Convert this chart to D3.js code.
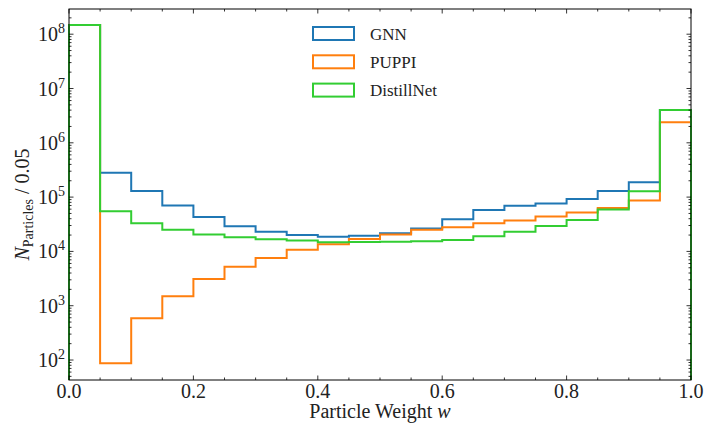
<!DOCTYPE html>
<html><head><meta charset="utf-8">
<script src="https://cdn.jsdelivr.net/npm/d3@7"></script>
<style>body{margin:0;background:#fff}svg{display:block}</style>
</head><body><svg id="c" width="706" height="427"></svg>
<script>
const binEdges = [0,0.05,0.1,0.15,0.2,0.25,0.3,0.35,0.4,0.45,0.5,0.55,0.6,0.65,0.7,0.75,0.8,0.85,0.9,0.95,1.0];
const gnn = [1.48e8,2.8e5,1.3e5,7.0e4,4.3e4,2.9e4,2.3e4,2.0e4,1.86e4,1.94e4,2.15e4,2.65e4,3.9e4,5.8e4,6.9e4,7.6e4,9.2e4,1.3e5,1.88e5,4.0e6];
const puppi = [1.48e8,87,590,1500,3100,5200,7600,1.07e4,1.35e4,1.7e4,2.05e4,2.5e4,2.8e4,3.3e4,3.7e4,4.4e4,5.2e4,6.3e4,8.7e4,2.4e6];
const distill = [1.48e8,5.5e4,3.3e4,2.5e4,2.05e4,1.82e4,1.67e4,1.58e4,1.47e4,1.49e4,1.5e4,1.54e4,1.62e4,1.9e4,2.3e4,2.95e4,3.8e4,5.9e4,1.28e5,4.0e6];
const seriesNames = ["GNN","PUPPI","DistillNet"];
const seriesColors = ["#1f77b4","#ff7f0e","#32cd32"];
const xTicks = [0,0.2,0.4,0.6,0.8,1.0];
const yExps = [2,3,4,5,6,7,8];

const FONT = "'Liberation Serif', 'Times New Roman', 'DejaVu Serif', serif";
const svg = d3.select("#c");
const L=69,R=691,T=9,B=380;
const x = d3.scaleLinear().domain([0,1]).range([L,R]);
const y = d3.scaleLog().domain([Math.pow(10,1.632),Math.pow(10,8.464)]).range([B,T]);

svg.append("defs").append("clipPath").attr("id","clip").append("rect").attr("x",L-1).attr("y",T).attr("width",R-L+2).attr("height",B-T);

const data=[gnn,puppi,distill];
data.forEach((vals,i)=>{
  let p = `M${x(binEdges[0])},${B}`;
  vals.forEach((v,j)=>{ p += `L${x(binEdges[j])},${y(v)}L${x(binEdges[j+1])},${y(v)}`; });
  p += `L${x(binEdges[binEdges.length-1])},${B}`;
  svg.append("path").attr("d",p).attr("fill","none").attr("stroke",seriesColors[i]).attr("stroke-width",2).attr("clip-path","url(#clip)");
});

svg.append("rect").attr("x",L).attr("y",T).attr("width",R-L).attr("height",B-T).attr("fill","none").attr("stroke","#000").attr("stroke-width",1);

const xMinor = d3.range(0,1.0001,0.05);
const tk = svg.append("g").attr("stroke","#000").attr("stroke-width",0.8);
xMinor.forEach(t=>{
  const major = xTicks.some(m=>Math.abs(m-t)<1e-6);
  const len = major?4.5:2.5;
  tk.append("line").attr("x1",x(t)).attr("x2",x(t)).attr("y1",B).attr("y2",B-len);
  tk.append("line").attr("x1",x(t)).attr("x2",x(t)).attr("y1",T).attr("y2",T+len);
});
const txt = (sel)=>sel.append("text").attr("font-family",FONT).attr("fill","#222");
xTicks.forEach(t=>{
  txt(svg).attr("x",x(t)).attr("y",398).attr("text-anchor","middle").attr("font-size",20).text(d3.format(".1f")(t));
});
for(let e=1;e<=8;e++){
  for(let m=1;m<=9;m++){
    const v=m*Math.pow(10,e);
    if(v<y.domain()[0]||v>y.domain()[1]) continue;
    const len = m===1?4.5:2.5;
    tk.append("line").attr("x1",L).attr("x2",L+len).attr("y1",y(v)).attr("y2",y(v));
    tk.append("line").attr("x1",R).attr("x2",R-len).attr("y1",y(v)).attr("y2",y(v));
  }
}
yExps.forEach(e=>{
  const t = txt(svg).attr("x",65).attr("y",y(Math.pow(10,e))+7).attr("text-anchor","end").attr("font-size",20);
  t.append("tspan").text("10");
  t.append("tspan").attr("dy",-8).attr("font-size",14).text(e);
});

const xl = txt(svg).attr("x",(L+R)/2).attr("y",418).attr("text-anchor","middle").attr("font-size",20);
xl.append("tspan").text("Particle Weight ");
xl.append("tspan").attr("font-style","italic").text("w");

const yl = txt(svg).attr("transform",`translate(29,${(T+B)/2+10}) rotate(-90)`).attr("text-anchor","middle").attr("font-size",20);
yl.append("tspan").attr("font-style","italic").text("N");
yl.append("tspan").attr("font-size",14).attr("dy",4).text("Particles");
yl.append("tspan").attr("dy",-4).text(" / 0.05");

seriesNames.forEach((n,i)=>{
  const cy = 33.5 + i*28.3;
  svg.append("rect").attr("x",313).attr("y",cy-6.5).attr("width",41).attr("height",13).attr("fill","none").attr("stroke",seriesColors[i]).attr("stroke-width",2);
  txt(svg).attr("x",370).attr("y",cy+6).attr("font-size",17).text(n);
});
</script></body></html>
